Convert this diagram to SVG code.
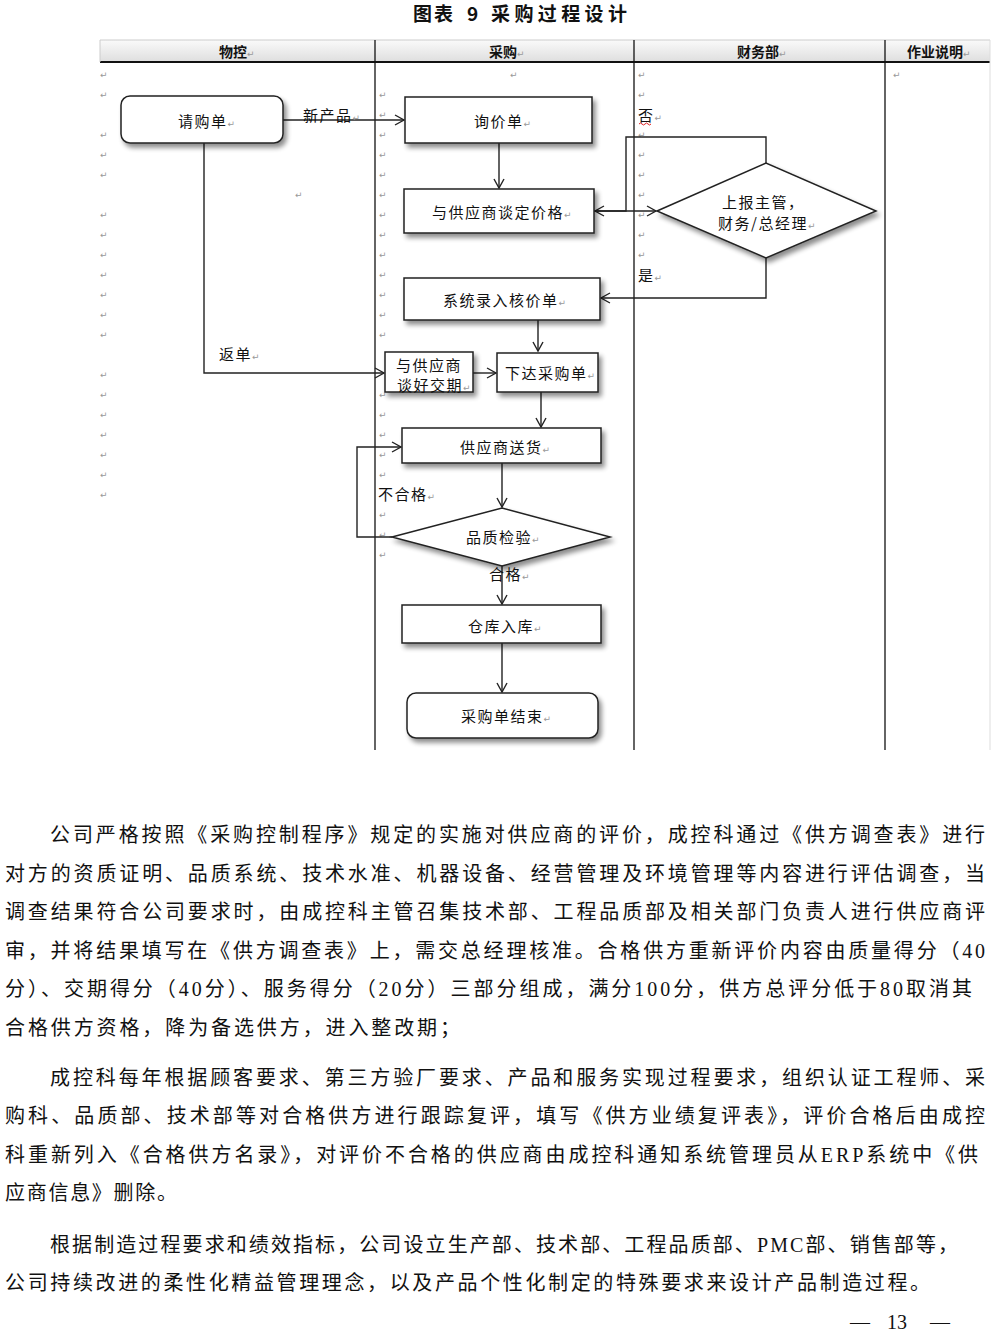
<svg xmlns="http://www.w3.org/2000/svg" width="1000" height="1333" viewBox="0 0 1000 1333">
<style>
.t{font-family:"Noto Sans CJK SC","Liberation Sans",sans-serif;font-size:15px;letter-spacing:1.5px;fill:#111}
.h{font-family:"Noto Sans CJK SC","Liberation Sans",sans-serif;font-size:14px;font-weight:bold;fill:#111}
.ti{font-family:"Noto Sans CJK SC","Liberation Sans",sans-serif;font-size:19px;font-weight:bold;fill:#111}
.pm{font-family:"DejaVu Sans",sans-serif;font-size:9px;fill:#999;font-weight:normal;letter-spacing:0}
.body{font-family:"Liberation Serif","Noto Sans CJK SC",serif;font-size:20px;fill:#111}
.box{fill:#fff;stroke:#222;stroke-width:1.5}
.ln{fill:none;stroke:#222;stroke-width:1.4}
.grid{stroke:#111;stroke-width:1.3}
</style>
<defs>
<linearGradient id="hg" x1="0" y1="0" x2="0" y2="1">
<stop offset="0" stop-color="#fafafa"/>
<stop offset="1" stop-color="#dedede"/>
</linearGradient>
<filter id="sh" x="-10%" y="-20%" width="125%" height="150%">
<feGaussianBlur in="SourceAlpha" stdDeviation="2.5"/>
<feOffset dx="3" dy="4" result="b"/>
<feComponentTransfer><feFuncA type="linear" slope="0.45"/></feComponentTransfer>
<feMerge><feMergeNode/><feMergeNode in="SourceGraphic"/></feMerge>
</filter>
<marker id="ar" markerUnits="userSpaceOnUse" markerWidth="12" markerHeight="12" refX="10" refY="6" orient="auto">
<path d="M1,1 L10,6 L1,11" fill="none" stroke="#222" stroke-width="1.4"/>
</marker>
</defs>
<rect width="1000" height="1333" fill="#fff"/>

<g id="title">
<text class="ti" x="413" y="21" textLength="40" lengthAdjust="spacing">图表</text>
<text class="ti" x="467" y="21">9</text>
<text class="ti" x="491" y="21" textLength="136" lengthAdjust="spacing">采购过程设计</text>
</g>

<g id="table">
<rect x="100" y="40" width="890" height="22" fill="url(#hg)"/>
<line x1="100" y1="40" x2="990" y2="40" stroke="#ccc" stroke-width="1"/>
<line x1="100" y1="62" x2="990" y2="62" stroke="#111" stroke-width="2"/>
<line x1="100" y1="40" x2="100" y2="62" stroke="#ccc" stroke-width="1"/>
<line x1="990" y1="40" x2="990" y2="750" stroke="#ddd" stroke-width="1"/>
<line class="grid" x1="375" y1="40" x2="375" y2="750"/>
<line class="grid" x1="634" y1="40" x2="634" y2="750"/>
<line class="grid" x1="885" y1="40" x2="885" y2="750"/>
<text class="h" x="219" y="57">物控<tspan class="pm">↵</tspan></text>
<text class="h" x="489" y="57">采购<tspan class="pm">↵</tspan></text>
<text class="h" x="737" y="57">财务部<tspan class="pm">↵</tspan></text>
<text class="h" x="907" y="57">作业说明<tspan class="pm">↵</tspan></text>
</g>

<g id="marks" class="pm">
<text x="100" y="78">↵</text><text x="100" y="98">↵</text><text x="100" y="138">↵</text><text x="100" y="158">↵</text><text x="100" y="178">↵</text>
<text x="100" y="218">↵</text><text x="100" y="238">↵</text><text x="100" y="258">↵</text><text x="100" y="278">↵</text><text x="100" y="298">↵</text>
<text x="100" y="318">↵</text><text x="100" y="338">↵</text><text x="100" y="378">↵</text><text x="100" y="398">↵</text><text x="100" y="418">↵</text>
<text x="100" y="438">↵</text><text x="100" y="458">↵</text><text x="100" y="478">↵</text><text x="100" y="498">↵</text>
<text x="295" y="198">↵</text>
<text x="510" y="78">↵</text>
<text x="379" y="98">↵</text><text x="379" y="118">↵</text><text x="379" y="138">↵</text><text x="379" y="158">↵</text><text x="379" y="178">↵</text>
<text x="379" y="198">↵</text><text x="379" y="218">↵</text><text x="379" y="238">↵</text><text x="379" y="258">↵</text><text x="379" y="278">↵</text>
<text x="379" y="298">↵</text><text x="379" y="318">↵</text><text x="379" y="338">↵</text><text x="379" y="398">↵</text><text x="379" y="418">↵</text>
<text x="379" y="438">↵</text><text x="379" y="458">↵</text><text x="379" y="478">↵</text><text x="379" y="518">↵</text><text x="379" y="538">↵</text>
<text x="379" y="558">↵</text>
<text x="638" y="78">↵</text><text x="638" y="98">↵</text><text x="638" y="138">↵</text><text x="638" y="158">↵</text><text x="638" y="178">↵</text>
<text x="638" y="198">↵</text><text x="638" y="218">↵</text><text x="638" y="238">↵</text><text x="638" y="258">↵</text>
<text x="893" y="78">↵</text>
</g>

<g id="connectors">
<path class="ln" d="M283,120 L404,120" marker-end="url(#ar)"/>
<path class="ln" d="M204,143 L204,373 L384,373" marker-end="url(#ar)"/>
<path class="ln" d="M499,143 L499,188" marker-end="url(#ar)"/>
<path class="ln" d="M594,211 L656,211" marker-end="url(#ar)"/>
<path class="ln" d="M766,163 L766,137 L626,137 L626,211 L595,211" marker-end="url(#ar)"/>
<path class="ln" d="M766,258 L766,298 L601,298" marker-end="url(#ar)"/>
<path class="ln" d="M538,320 L538,351" marker-end="url(#ar)"/>
<path class="ln" d="M473,373 L496,373" marker-end="url(#ar)"/>
<path class="ln" d="M541,392 L541,427" marker-end="url(#ar)"/>
<path class="ln" d="M502,463 L502,507" marker-end="url(#ar)"/>
<path class="ln" d="M392,537 L357,537 L357,447 L401,447" marker-end="url(#ar)"/>
<path class="ln" d="M502,566 L502,604" marker-end="url(#ar)"/>
<path class="ln" d="M502,643 L502,692" marker-end="url(#ar)"/>
<text class="t" x="303" y="121">新产品<tspan class="pm">↵</tspan></text>
<text class="t" x="219" y="360">返单<tspan class="pm">↵</tspan></text>
<text class="t" x="638" y="121">否<tspan class="pm">↵</tspan></text>
<path d="M639,124 q1.5,-2 3,0 t3,0 t3,0 t3,0" fill="none" stroke="#d22" stroke-width="1"/>
<text class="t" x="638" y="281">是<tspan class="pm">↵</tspan></text>
<text class="t" x="378" y="500">不合格<tspan class="pm">↵</tspan></text>
<text class="t" x="489" y="580">合格<tspan class="pm">↵</tspan></text>
</g>

<g id="n_request"><rect class="box" x="121" y="96" width="162" height="47" rx="9" filter="url(#sh)"/><text class="t" x="178" y="127">请购单<tspan class="pm">↵</tspan></text></g>
<g id="n_inquiry"><rect class="box" x="405" y="97" width="187" height="46" filter="url(#sh)"/><text class="t" x="474" y="127">询价单<tspan class="pm">↵</tspan></text></g>
<g id="n_price"><rect class="box" x="404" y="189" width="190" height="44" filter="url(#sh)"/><text class="t" x="432" y="218">与供应商谈定价格<tspan class="pm">↵</tspan></text></g>
<g id="n_report"><polygon class="box" points="657,211 766,163 876,211 766,258" filter="url(#sh)"/><text class="t" x="722" y="208">上报主管，</text><text class="t" x="718" y="229">财务/总经理<tspan class="pm">↵</tspan></text></g>
<g id="n_system"><rect class="box" x="404" y="278" width="196" height="42" filter="url(#sh)"/><text class="t" x="443" y="306">系统录入核价单<tspan class="pm">↵</tspan></text></g>
<g id="n_delivery_date"><rect class="box" x="385" y="352" width="88" height="40" filter="url(#sh)"/><text class="t" x="396" y="371">与供应商</text><text class="t" x="397" y="391">谈好交期<tspan class="pm">↵</tspan></text></g>
<g id="n_order"><rect class="box" x="497" y="353" width="101" height="39" filter="url(#sh)"/><text class="t" x="505" y="379">下达采购单<tspan class="pm">↵</tspan></text></g>
<g id="n_ship"><rect class="box" x="402" y="428" width="199" height="35" filter="url(#sh)"/><text class="t" x="460" y="453">供应商送货<tspan class="pm">↵</tspan></text></g>
<g id="n_qc"><polygon class="box" points="392,537 502,508 610,537 502,566" filter="url(#sh)"/><text class="t" x="466" y="543">品质检验<tspan class="pm">↵</tspan></text></g>
<g id="n_store"><rect class="box" x="402" y="605" width="199" height="38" filter="url(#sh)"/><text class="t" x="468" y="632">仓库入库<tspan class="pm">↵</tspan></text></g>
<g id="n_end"><rect class="box" x="407" y="693" width="191" height="45" rx="9" filter="url(#sh)"/><text class="t" x="461" y="722">采购单结束<tspan class="pm">↵</tspan></text></g>

<g id="body">
<text class="body" x="50" y="842" textLength="935" lengthAdjust="spacing">公司严格按照《采购控制程序》规定的实施对供应商的评价，成控科通过《供方调查表》进行</text>
<text class="body" x="5" y="880.5" textLength="980" lengthAdjust="spacing">对方的资质证明、品质系统、技术水准、机器设备、经营管理及环境管理等内容进行评估调查，当</text>
<text class="body" x="5" y="919" textLength="980" lengthAdjust="spacing">调查结果符合公司要求时，由成控科主管召集技术部、工程品质部及相关部门负责人进行供应商评</text>
<text class="body" x="5" y="957.5" textLength="980" lengthAdjust="spacing">审，并将结果填写在《供方调查表》上，需交总经理核准。合格供方重新评价内容由质量得分（40</text>
<text class="body" x="5" y="996" textLength="967" lengthAdjust="spacing">分）、交期得分（40分）、服务得分（20分）三部分组成，满分100分，供方总评分低于80取消其</text>
<text class="body" x="5" y="1034.5" textLength="455" lengthAdjust="spacing">合格供方资格，降为备选供方，进入整改期；</text>
<text class="body" x="50" y="1085" textLength="935" lengthAdjust="spacing">成控科每年根据顾客要求、第三方验厂要求、产品和服务实现过程要求，组织认证工程师、采</text>
<text class="body" x="5" y="1123" textLength="980" lengthAdjust="spacing">购科、品质部、技术部等对合格供方进行跟踪复评，填写《供方业绩复评表》，评价合格后由成控</text>
<text class="body" x="5" y="1162" textLength="973" lengthAdjust="spacing">科重新列入《合格供方名录》，对评价不合格的供应商由成控科通知系统管理员从ERP系统中《供</text>
<text class="body" x="5" y="1200" textLength="172" lengthAdjust="spacing">应商信息》删除。</text>
<text class="body" x="50" y="1252" textLength="908" lengthAdjust="spacing">根据制造过程要求和绩效指标，公司设立生产部、技术部、工程品质部、PMC部、销售部等，</text>
<text class="body" x="5" y="1290" textLength="925" lengthAdjust="spacing">公司持续改进的柔性化精益管理理念，以及产品个性化制定的特殊要求来设计产品制造过程。</text>
<text class="body" x="850" y="1329">—</text>
<text class="body" x="887" y="1329">13</text>
<text class="body" x="930" y="1329">—</text>
</g>
</svg>
